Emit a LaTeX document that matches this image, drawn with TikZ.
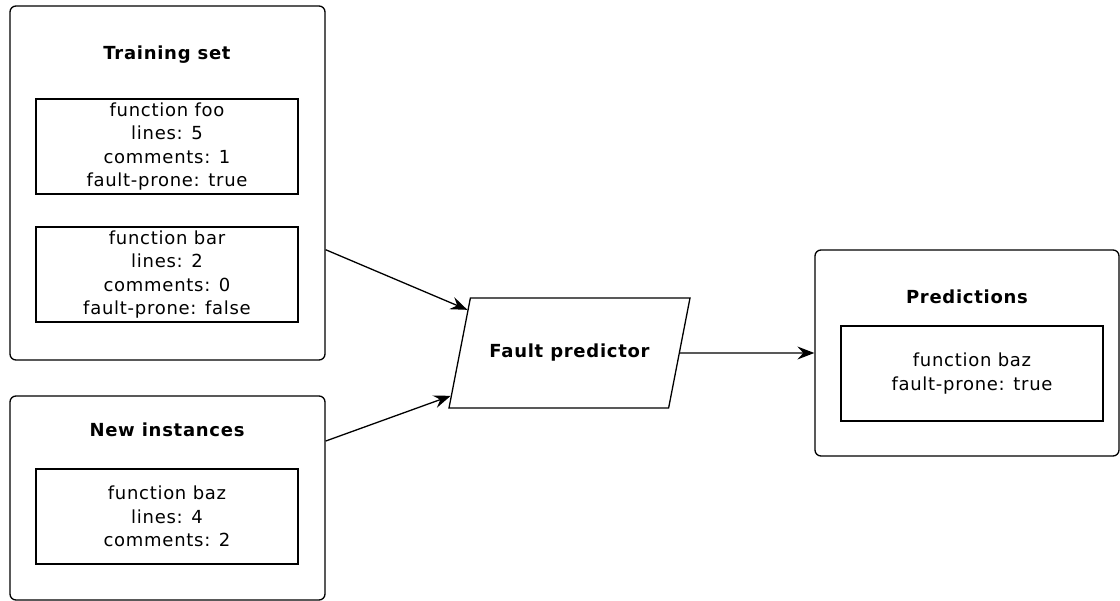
\documentclass[tikz,border=0pt]{standalone}
\usepackage{fontspec}
\setmainfont{DejaVu Sans}[LetterSpace=4]
\usepackage{tikz}
\usetikzlibrary{arrows.meta,positioning,shapes.geometric}

\begin{document}
\begin{tikzpicture}[x=1pt, y=-1pt,
        group/.style={draw, line width=1.3pt, rounded corners=6pt, inner sep=0pt},
        record/.style={draw, line width=1.3pt, inner sep=0pt, align=center,
            minimum width=262pt, minimum height=95pt,
            font=\fontsize{18}{23.3}\selectfont},
        title/.style={font=\fontsize{18}{23.3}\selectfont\bfseries},
        flow/.style={-{Stealth[length=17pt, width=13pt, inset=6pt]}, line width=1.3pt}]

        \useasboundingbox (0,0) rectangle (1120,601);

        % Training set
        \node[group, minimum width=315pt, minimum height=354pt] (Train) at (167.5,183) {};
        \node[title] (Train-title) at (167,55) {Training set};
        \node[record] (Train-1) at (167,146.5) {function foo\\lines: 5\\comments: 1\\fault-prone: true};
        \node[record] (Train-2) at (167,274.5) {function bar\\lines: 2\\comments: 0\\fault-prone: false};

        % New instances
        \node[group, minimum width=315pt, minimum height=204pt] (New) at (167.5,498) {};
        \node[title] (New-title) at (167,430) {New instances};
        \node[record] (New-1) at (167,516.5) {function baz\\lines: 4\\comments: 2};

        % Fault predictor
        \node[draw, line width=1.3pt, trapezium, trapezium left angle=79,
            trapezium right angle=101, trapezium stretches body,
            text height=60pt, text depth=50pt,
            minimum width=241pt, inner sep=0pt,
            font=\fontsize{18}{23.3}\selectfont\bfseries] (Model) at (569.5,353) {Fault predictor};

        % Predictions
        \node[group, minimum width=304pt, minimum height=206pt] (Pred) at (967,353) {};
        \node[title] (Pred-title) at (967,297) {Predictions};
        \node[record] (Pred-1) at (972,373.5) {function baz\\fault-prone: true};

        % Connect
        \draw[flow] (Train) -- (Model);
        \draw[flow] (New) -- (Model);
        \draw[flow] (Model) -- (Pred);

    \end{tikzpicture}
\end{document}
